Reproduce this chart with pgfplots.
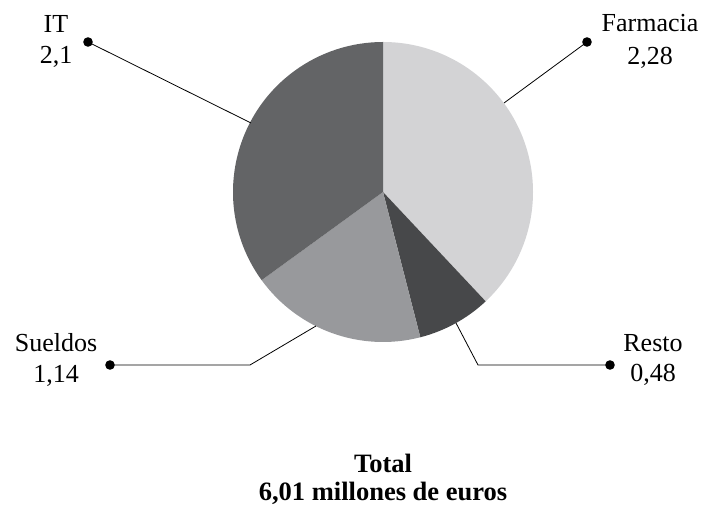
\documentclass[border=0pt]{standalone}
\usepackage{fontspec}
\setmainfont{Liberation Serif}
\usepackage{pgfplots}
\usepackage{pgfplotstable}
\pgfplotsset{compat=1.18}

\definecolor{cfarm}{HTML}{D3D3D5}
\definecolor{cresto}{HTML}{47484A}
\definecolor{csueldos}{HTML}{98999C}
\definecolor{cit}{HTML}{636466}

% gasto por partida, millones de euros (orden horario desde arriba)
\pgfplotstableread{
label    value
Farmacia 2.28
Resto    0.48
Sueldos  1.14
IT       2.1
}\piedata

% angulos de cada sector a partir de la tabla
\pgfplotstablegetelem{0}{value}\of\piedata \let\vA\pgfplotsretval
\pgfplotstablegetelem{1}{value}\of\piedata \let\vB\pgfplotsretval
\pgfplotstablegetelem{2}{value}\of\piedata \let\vC\pgfplotsretval
\pgfplotstablegetelem{3}{value}\of\piedata \let\vD\pgfplotsretval
\pgfmathsetmacro\tot{\vA+\vB+\vC+\vD}
\pgfmathsetmacro\aA{90}
\pgfmathsetmacro\aB{\aA-360*\vA/\tot}
\pgfmathsetmacro\aC{\aB-360*\vB/\tot}
\pgfmathsetmacro\aD{\aC-360*\vC/\tot}
\pgfmathsetmacro\aE{\aD-360*\vD/\tot}
\newcommand\lbl{\fontsize{26}{31}\selectfont}

\begin{document}
\begin{tikzpicture}
\begin{axis}[
    x=1pt, y=1pt,
    xmin=0, xmax=707, ymin=0, ymax=506,
    scale only axis,
    hide axis,
    clip=false,
    anchor=south west, at={(0,0)},
]
\def\cx{383}\def\cy{314}\def\r{150pt}
\fill[cfarm] (\cx,\cy) -- ++(\aA:\r) arc[start angle=\aA, end angle=\aB, radius=\r] -- cycle;
\fill[cresto] (\cx,\cy) -- ++(\aB:\r) arc[start angle=\aB, end angle=\aC, radius=\r] -- cycle;
\fill[csueldos] (\cx,\cy) -- ++(\aC:\r) arc[start angle=\aC, end angle=\aD, radius=\r] -- cycle;
\fill[cit] (\cx,\cy) -- ++(\aD:\r) arc[start angle=\aD, end angle=\aE, radius=\r] -- cycle;

% lineas guia
\draw[black, line width=0.8pt] (88,464) -- (251,383);
\draw[black, line width=0.8pt] (587,464) -- (504,403);
\draw[black, line width=0.8pt] (110,141) -- (250,141) -- (316,180);
\draw[black, line width=0.8pt] (610,141) -- (478,141) -- (456,183);
\fill (88,464) circle[radius=4.8pt];
\fill (587,464) circle[radius=4.8pt];
\fill (110,141) circle[radius=4.8pt];
\fill (610,141) circle[radius=4.8pt];

% etiquetas
\tikzset{lab/.style={anchor=base, inner sep=0pt, font=\lbl}}
\node[lab] at (56,473) {IT};
\node[lab] at (56,442) {2,1};
\node[lab] at (650,474) {Farmacia};
\node[lab] at (650,441) {2,28};
\node[lab] at (56,154) {Sueldos};
\node[lab] at (56,123) {1,14};
\node[lab] at (653,154) {Resto};
\node[lab] at (653,124) {0,48};
\node[lab, font=\fontsize{26.5}{30}\selectfont\bfseries] at (383,33) {Total};
\node[lab, font=\fontsize{26.5}{30}\selectfont\bfseries] at (383,5) {6,01 millones de euros};
\end{axis}
\pgfresetboundingbox
\path (0,0) rectangle (707pt,506pt);
\end{tikzpicture}
\end{document}
